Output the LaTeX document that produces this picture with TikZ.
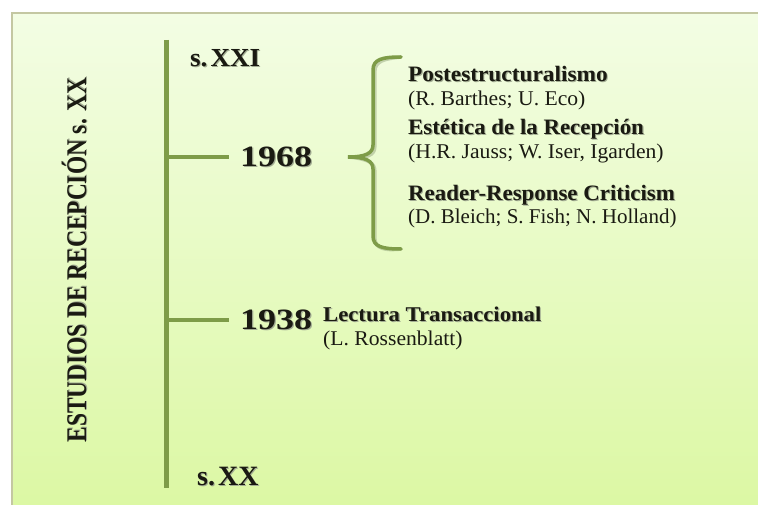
\documentclass[tikz,border=0pt]{standalone}
\usepackage{fontspec}
\setmainfont{Liberation Serif}
\usepackage{graphicx}
\definecolor{bgtop}{HTML}{F3FDE4}
\definecolor{bgbot}{HTML}{DCF8A4}
\definecolor{edgecol}{HTML}{C4C7A2}
\definecolor{linecol}{HTML}{7E9C48}
\definecolor{lineshadow}{HTML}{9FAF86}
\definecolor{txtshadow}{HTML}{A3AD93}
\definecolor{ink}{HTML}{1A1A12}
% text with a soft drop shadow
\newcommand{\shd}[1]{\leavevmode\rlap{\kern1pt\raisebox{-1pt}{\textcolor{txtshadow}{#1}}}#1}
\tikzset{
  lbl/.style={anchor=base west, inner sep=0pt, text=ink},
  axisline/.style={linecol, line width=5pt},
  tickline/.style={linecol, line width=4.5pt},
  braceline/.style={linecol, line width=3.5pt, line cap=round},
  shadowline/.style={lineshadow, opacity=0.55}
}
\begin{document}
\begin{tikzpicture}[x=1pt,y=-1pt]
\useasboundingbox (0,0) rectangle (758,505);
% panel
\shade[top color=bgtop, bottom color=bgbot] (12,13) rectangle (758,505);
\draw[edgecol, line width=1.5pt] (12,505) -- (12,13) -- (758,13);

% timeline points
\coordinate (axtop) at (166,40);
\coordinate (axbot) at (166,488);
\coordinate (t68) at (166,157);
\coordinate (e68) at (229,157);
\coordinate (t38) at (166,320);
\coordinate (e38) at (229,320);
\coordinate (brtop) at (401,57);
\coordinate (brtip) at (348,157);
\coordinate (brbot) at (401,249);

% shadows of the lines
\begin{scope}[shift={(1.8,1.8)}]
  \draw[axisline, shadowline] (axtop) -- (axbot);
  \draw[tickline, shadowline] (t68) -- (e68);
  \draw[tickline, shadowline] (t38) -- (e38);
  \draw[braceline, shadowline] (brtop) .. controls (383,57) and (373,59) .. (373,70)
     -- (373,145) .. controls (373,153) and (366,157) .. (brtip)
     .. controls (366,157) and (373,161) .. (373,169)
     -- (373,236) .. controls (373,247) and (383,249) .. (brbot);
\end{scope}

% timeline
\draw[axisline] (axtop) -- (axbot);
\draw[tickline] (t68) -- (e68);
\draw[tickline] (t38) -- (e38);
\draw[braceline] (brtop) .. controls (383,57) and (373,59) .. (373,70)
   -- (373,145) .. controls (373,153) and (366,157) .. (brtip)
   .. controls (366,157) and (373,161) .. (373,169)
   -- (373,236) .. controls (373,247) and (383,249) .. (brbot);

% vertical title
\node[anchor=base, inner sep=0pt, text=ink, rotate=90] (title) at (86,260)
  {\fontsize{28.5}{30}\selectfont\bfseries\scalebox{0.82}[1]{\shd{ESTUDIOS DE RECEPCIÓN s. XX}}};

% period labels
\node[lbl] (sxxi) at (190,67) {\fontsize{26}{28}\selectfont\bfseries\scalebox{1.04}[1]{\shd{s.\kern3pt XXI}}};
\node[lbl] (sxx) at (197,485) {\fontsize{28}{30}\selectfont\bfseries\scalebox{1.0}[1]{\shd{s.\kern3pt XX}}};
\node[lbl] (y68) at (240,167) {\fontsize{29.5}{31}\selectfont\bfseries\scalebox{1.22}[1]{\shd{1968}}};
\node[lbl] (y38) at (240,329) {\fontsize{29.5}{31}\selectfont\bfseries\scalebox{1.22}[1]{\shd{1938}}};

% movements after 1968
\node[lbl] (post) at (408,82) {\fontsize{22}{24}\selectfont\bfseries\scalebox{1.06}[1]{\shd{Postestructuralismo}}};
\node[lbl] (postA) at (408,106) {\fontsize{21}{23}\selectfont\scalebox{1.03}[1]{(R. Barthes; U. Eco)}};
\node[lbl] (est) at (408,135) {\fontsize{22}{24}\selectfont\bfseries\scalebox{1.04}[1]{\shd{Estética de la Recepción}}};
\node[lbl] (estA) at (408,159) {\fontsize{21}{23}\selectfont\scalebox{1.03}[1]{(H.R. Jauss; W. Iser, Igarden)}};
\node[lbl] (rrc) at (408,201) {\fontsize{22}{24}\selectfont\bfseries\scalebox{1.04}[1]{\shd{Reader-Response Criticism}}};
\node[lbl] (rrcA) at (408,224) {\fontsize{21}{23}\selectfont\scalebox{1.0}[1]{(D. Bleich; S. Fish; N. Holland)}};

% movement of 1938
\node[lbl] (lect) at (323,321) {\fontsize{21}{23}\selectfont\bfseries\scalebox{1.08}[1]{\shd{Lectura Transaccional}}};
\node[lbl] (lectA) at (323,345) {\fontsize{21}{23}\selectfont\scalebox{1.03}[1]{(L. Rossenblatt)}};
\end{tikzpicture}
\end{document}
